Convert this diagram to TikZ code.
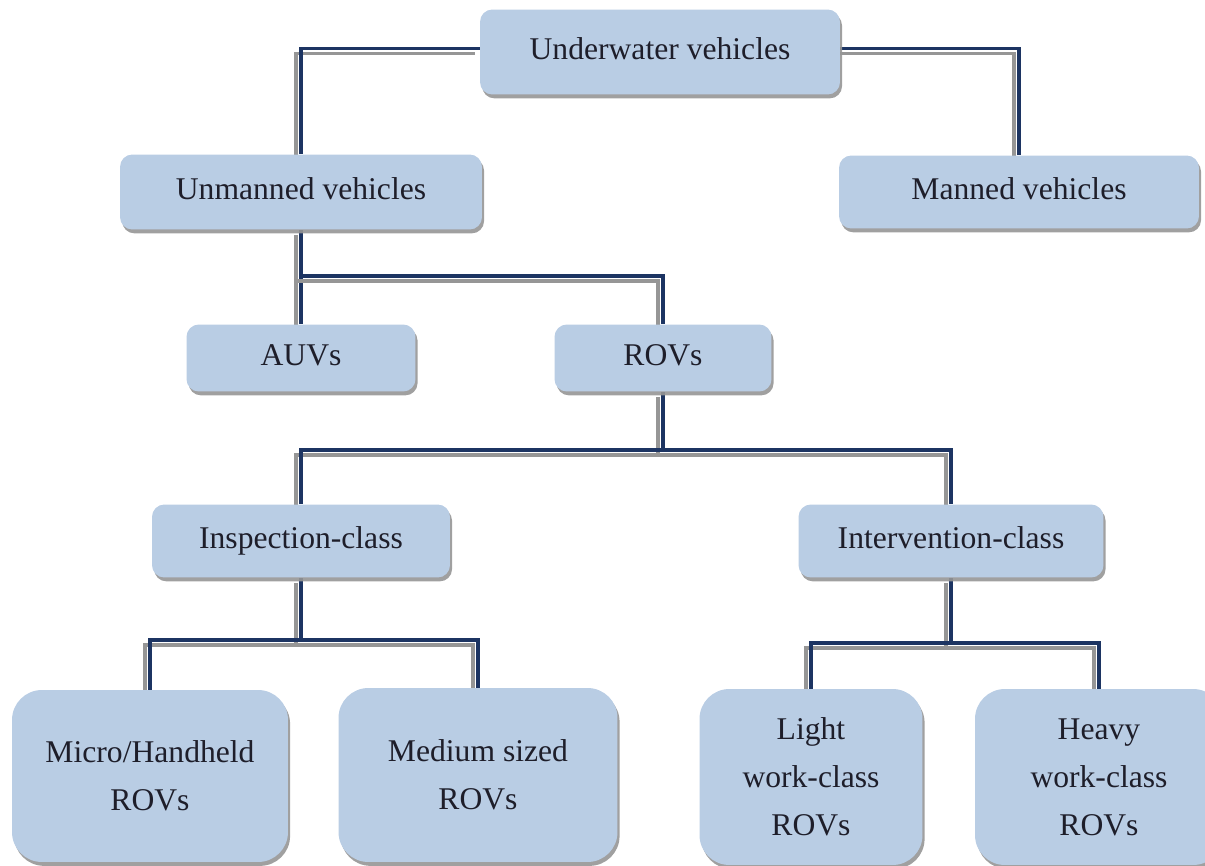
\documentclass[tikz,border=0pt]{standalone}
\usepackage{fontspec}
\setmainfont{Liberation Serif}
\usetikzlibrary{shadows, backgrounds}
\definecolor{boxblue}{RGB}{185,205,228}
\definecolor{linknavy}{RGB}{28,52,98}
\definecolor{linkgray}{RGB}{150,150,150}
\definecolor{inkdark}{RGB}{30,30,42}
\tikzset{
  basebox/.style={draw=none, fill=boxblue, rounded corners=7pt, text=inkdark,
    font=\fontsize{18}{27.3}\selectfont, align=center,
    drop shadow={shadow xshift=1.2pt, shadow yshift=-2.2pt, fill=linkgray, opacity=0.9}},
  vbox/.style={basebox, text height=12.5pt, text depth=3.5pt},
  leafbox/.style={basebox, rounded corners=17pt},
  linkline/.style={draw=linknavy, line width=2pt},
  linkshade/.style={draw=linkgray, line width=2pt, transform canvas={xshift=-0.1cm, yshift=-0.1cm}}
}
\newcommand{\linkpath}[1]{
  \draw[linkshade] #1;
  \draw[linkline] #1;
}

\begin{document}
\begin{tikzpicture}[x=0.02cm, y=-0.02cm]
  \useasboundingbox (0,0) rectangle (1205,866);

  % level 0 and 1
  \node[vbox, minimum width=7.2cm, minimum height=1.7cm] (uw) at (660,52) {Underwater vehicles};
  \node[vbox, minimum width=7.24cm, minimum height=1.5cm] (unman) at (301,192) {Unmanned vehicles};
  \node[vbox, minimum width=7.2cm, minimum height=1.46cm] (man) at (1019,192) {Manned vehicles};

  % level 2
  \node[vbox, minimum width=4.58cm, minimum height=1.34cm] (auv) at (301,358) {AUVs};
  \node[vbox, minimum width=4.34cm, minimum height=1.34cm] (rov) at (663,358) {ROVs};

  % level 3
  \node[vbox, minimum width=5.96cm, minimum height=1.46cm] (insp) at (301,541) {Inspection-class};
  \node[vbox, minimum width=6.1cm, minimum height=1.46cm] (inter) at (951,541) {Intervention-class};

  % leaves
  \node[leafbox, minimum width=5.52cm, minimum height=3.44cm] (micro) at (150,776) {Micro/Handheld\\ROVs};
  \node[leafbox, minimum width=5.58cm, minimum height=3.48cm] (med) at (478,775) {Medium sized\\ROVs};
  \node[leafbox, minimum width=4.46cm, minimum height=3.52cm] (light) at (811,777) {Light\\work-class\\ROVs};
  \node[leafbox, minimum width=4.96cm, minimum height=3.52cm] (heavy) at (1099,777) {Heavy\\work-class\\ROVs};

  \coordinate (j1) at (301,276);
  \coordinate (j2) at (663,450);
  \coordinate (j3) at (301,640);
  \coordinate (j4) at (951,643);

  \begin{scope}[on background layer]
    \linkpath{([yshift=2pt]uw.west) -| (unman.north)}
    \linkpath{([yshift=2pt]uw.east) -| (man.north)}
    \linkpath{(unman.south) -- (auv.north)}
    \linkpath{(j1) -| (rov.north)}
    \linkpath{(rov.south) -- (j2)}
    \linkpath{(insp.north) |- (j2) -| (inter.north)}
    \linkpath{(insp.south) -- (j3)}
    \linkpath{(micro.north) |- (j3) -| (med.north)}
    \linkpath{(inter.south) -- (j4)}
    \linkpath{(light.north) |- (j4) -| (heavy.north)}
  \end{scope}
\end{tikzpicture}
\end{document}
